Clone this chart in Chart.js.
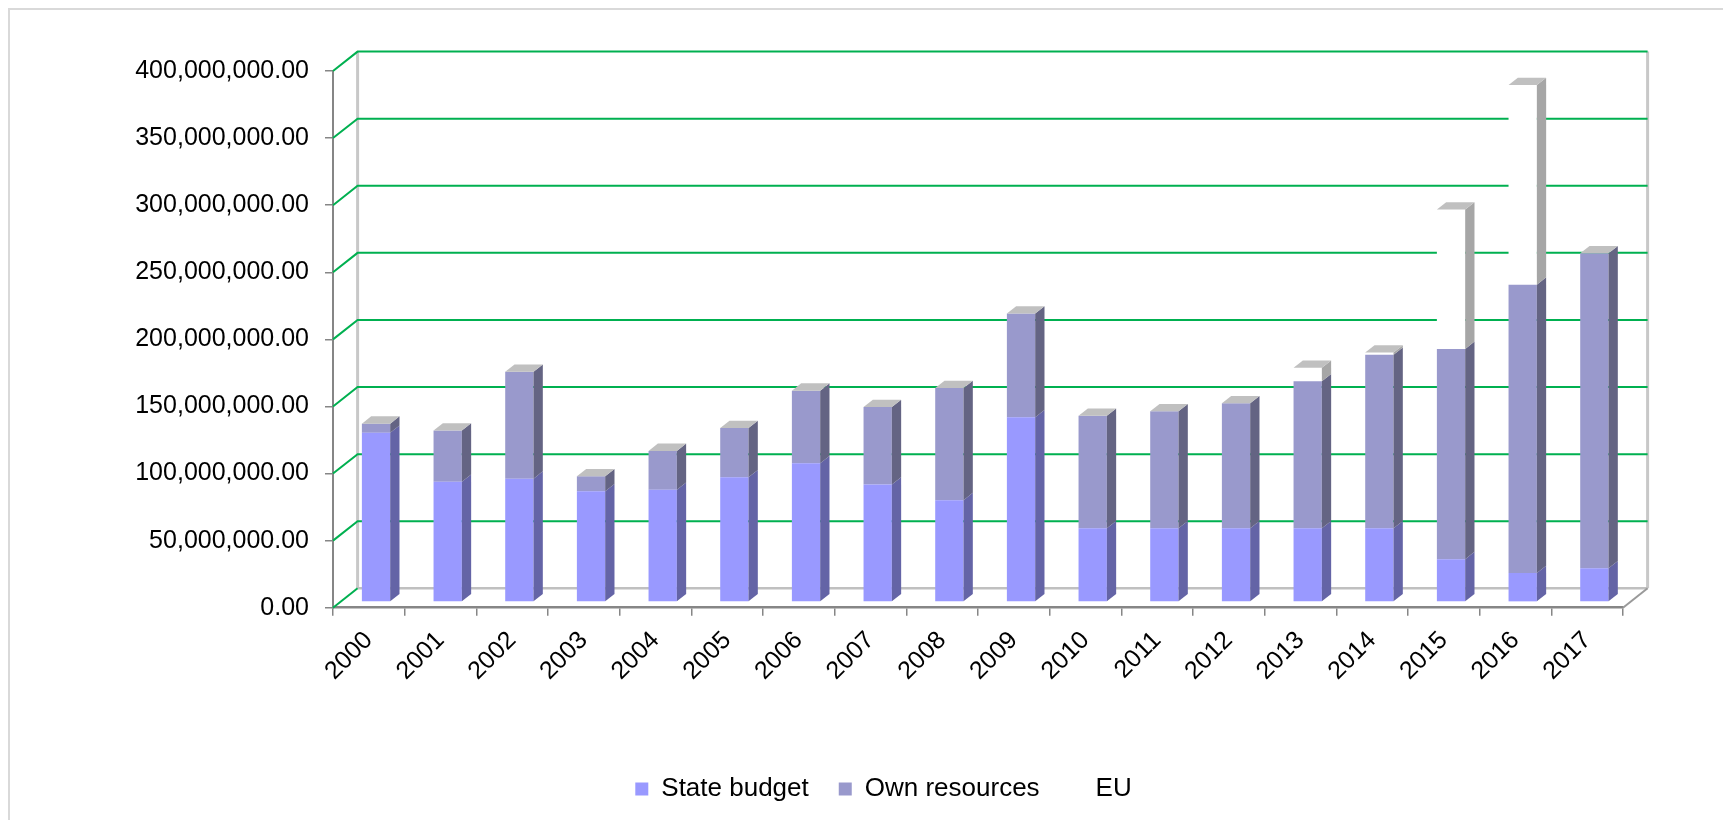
<!DOCTYPE html>
<html lang="en">
<head>
  <meta charset="UTF-8">
  <title>Investments by source of financing</title>
  <script src="https://cdn.jsdelivr.net/npm/chart.js"></script>
  <style>
    html, body { margin: 0; padding: 0; background: #fff; }
    #wrap { width: 1723px; height: 820px; }
  </style>
</head>
<body>
  <div id="wrap">
    <canvas id="myChart"></canvas>
  </div>

  <script>
    const years = ['2000', '2001', '2002', '2003', '2004', '2005', '2006', '2007', '2008',
                   '2009', '2010', '2011', '2012', '2013', '2014', '2015', '2016', '2017'];

    const stateBudget = [126200000, 89700000, 92000000, 82600000, 83700000, 93100000,
                         103500000, 87700000, 76000000, 137800000, 55000000, 55000000,
                         55000000, 55000000, 55000000, 32000000, 21700000, 25200000];

    const ownResources = [6800000, 38200000, 79700000, 11200000, 29000000, 36700000,
                          54100000, 57700000, 83600000, 77200000, 83900000, 87200000,
                          93200000, 109600000, 129400000, 156700000, 214900000, 234800000];

    const euFunds = [0, 0, 0, 0, 0, 0, 0, 0, 0, 0, 0, 0, 0,
                     10000000, 1600000, 103900000, 148800000, 0];

    const yMax = 400000000;
    const yStep = 50000000;

    // fake 3d: depth of the walls, where the bars sit and how deep they are
    const wallDepth = { x: 24.6, y: -19.4 };
    const barShift = { x: 7.2, y: -5.6 };
    const barDepth = { x: 9.3, y: -7.3 };
    const sideColors = ['#6464a6', '#646483', '#a6a6a6'];

    Chart.defaults.font.family = '"Liberation Sans", Arial, sans-serif';
    Chart.defaults.color = '#000';

    function seg(ctx, x1, y1, x2, y2) {
      ctx.beginPath();
      ctx.moveTo(x1, y1);
      ctx.lineTo(x2, y2);
      ctx.stroke();
    }

    function quad(ctx, pts, color) {
      ctx.fillStyle = color;
      ctx.beginPath();
      ctx.moveTo(pts[0][0], pts[0][1]);
      for (let i = 1; i < pts.length; i++) ctx.lineTo(pts[i][0], pts[i][1]);
      ctx.closePath();
      ctx.fill();
    }

    const walls3d = {
      id: 'walls3d',
      beforeDraw(chart) {
        const ctx = chart.ctx;
        ctx.save();
        ctx.strokeStyle = '#d9d9d9';
        ctx.lineWidth = 2;
        ctx.beginPath();
        ctx.moveTo(9, 840);
        ctx.lineTo(9, 9);
        ctx.lineTo(1740, 9);
        ctx.stroke();
        ctx.restore();
      },
      beforeDatasetsDraw(chart) {
        const { ctx, chartArea: a, scales: { y } } = chart;
        const dx = wallDepth.x, dy = wallDepth.y;
        const yb = y.getPixelForValue(0);
        const yt = y.getPixelForValue(y.max);
        ctx.save();
        // back wall edges
        ctx.strokeStyle = '#c8c8c8';
        ctx.lineWidth = 3;
        seg(ctx, a.left + dx, yt + dy, a.left + dx, yb + dy);
        seg(ctx, a.right + dx, yt + dy, a.right + dx, yb + dy);
        // floor
        ctx.strokeStyle = '#c0c0c0';
        ctx.lineWidth = 2.5;
        seg(ctx, a.left + dx, yb + dy, a.right + dx, yb + dy);
        ctx.strokeStyle = '#9a9a9a';
        ctx.lineWidth = 2;
        seg(ctx, a.right, yb, a.right + dx, yb + dy);
        // grid lines on side and back wall
        ctx.strokeStyle = '#00b050';
        ctx.lineWidth = 2;
        y.ticks.forEach(t => {
          const py = y.getPixelForValue(t.value);
          ctx.beginPath();
          ctx.moveTo(a.left, py);
          ctx.lineTo(a.left + dx, py + dy);
          if (t.value > 0) ctx.lineTo(a.right + dx, py + dy);
          ctx.stroke();
        });
        ctx.restore();
        ctx.save();
        ctx.translate(barShift.x, barShift.y);
      },
      afterDatasetsDraw(chart) {
        const ctx = chart.ctx;
        const bx = barDepth.x, by = barDepth.y;
        chart.data.datasets.forEach((ds, i) => {
          const meta = chart.getDatasetMeta(i);
          meta.data.forEach(bar => {
            const p = bar.getProps(['x', 'y', 'base', 'width'], true);
            if (Math.abs(p.base - p.y) < 0.5) return;
            const r = p.x + p.width / 2;
            quad(ctx, [[r, p.y], [r + bx, p.y + by], [r + bx, p.base + by], [r, p.base]], sideColors[i]);
          });
        });
        const last = chart.getDatasetMeta(chart.data.datasets.length - 1);
        last.data.forEach(bar => {
          const p = bar.getProps(['x', 'y', 'width'], true);
          const l = p.x - p.width / 2, r = p.x + p.width / 2;
          quad(ctx, [[l, p.y], [l + bx, p.y + by], [r + bx, p.y + by], [r, p.y]], '#c0c0c0');
        });
        ctx.restore();
      }
    };

    const ctx = document.getElementById('myChart').getContext('2d');

    const chart = new Chart(ctx, {
      type: 'bar',
      data: {
        labels: years,
        datasets: [
          { label: 'State budget', data: stateBudget, backgroundColor: '#9999ff', borderWidth: 0 },
          { label: 'Own resources', data: ownResources, backgroundColor: '#9999cc', borderWidth: 0 },
          { label: 'EU', data: euFunds, backgroundColor: '#ffffff', borderColor: '#ffffff', borderWidth: 0 }
        ]
      },
      plugins: [walls3d],
      options: {
        responsive: true,
        maintainAspectRatio: false,
        animation: false,
        devicePixelRatio: 1,
        layout: {
          padding: { left: 44, right: 0, top: 71, bottom: 8 }
        },
        datasets: {
          bar: {
            categoryPercentage: 1,
            barPercentage: 0.395,
            clip: false
          }
        },
        scales: {
          x: {
            stacked: true,
            grid: {
              offset: true,
              drawOnChartArea: false,
              drawTicks: true,
              tickLength: 8,
              color: '#868686',
              lineWidth: 1.5
            },
            border: { display: true, color: '#868686', width: 2.5 },
            ticks: {
              autoSkip: false,
              minRotation: 45,
              maxRotation: 45,
              padding: 10,
              font: { size: 25 }
            },
            afterFit(scale) { scale.height = 138.3; }
          },
          y: {
            stacked: true,
            min: 0,
            max: yMax,
            grid: {
              drawOnChartArea: false,
              drawTicks: true,
              tickLength: 8,
              color: '#868686',
              lineWidth: 1.5
            },
            border: { display: true, color: '#868686', width: 2 },
            ticks: {
              stepSize: yStep,
              padding: 16,
              font: { size: 25 },
              callback: v => Number(v).toLocaleString('en-US', { minimumFractionDigits: 2, maximumFractionDigits: 2 })
            },
            afterFit(scale) { scale.width = 289; }
          },
          // empty room on the right for the back wall
          yRight: {
            position: 'right',
            display: true,
            grid: { display: false, drawTicks: false },
            border: { display: false },
            ticks: { display: false },
            afterFit(scale) { scale.width = 100; }
          }
        },
        plugins: {
          tooltip: { enabled: false },
          legend: {
            position: 'bottom',
            labels: {
              boxWidth: 13,
              boxHeight: 13,
              padding: 30,
              font: { size: 26 },
              color: '#000'
            }
          }
        }
      }
    });
  </script>
</body>
</html>
